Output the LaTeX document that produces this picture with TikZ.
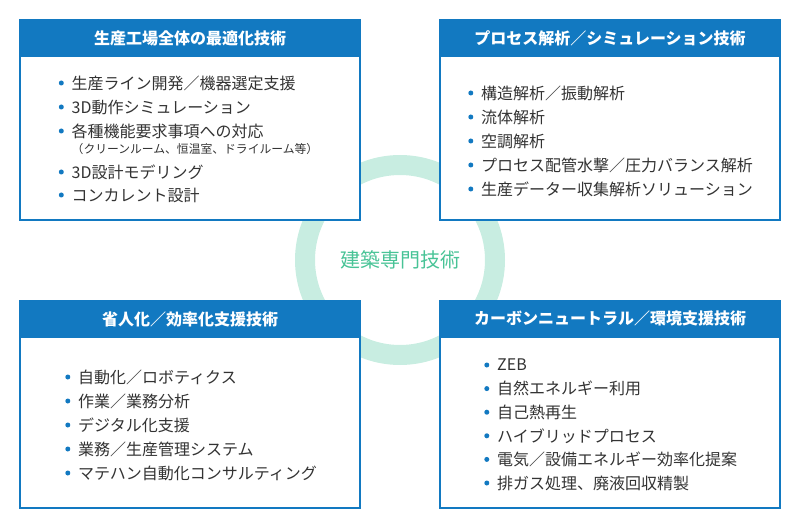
\documentclass[tikz,border=0pt]{standalone}
\usepackage{fontspec}
\setmainfont{Noto Sans CJK JP}
\usepackage{tikz}

\definecolor{boxblue}{HTML}{1279C1}
\definecolor{ringmint}{HTML}{C8EDE1}
\definecolor{coregreen}{HTML}{48C396}
\definecolor{itemgray}{HTML}{333333}

\begin{document}
\begin{tikzpicture}[x=1pt,y=-1pt,
    panel/.style={draw=boxblue,line width=2pt,fill=white,minimum width=340pt,minimum height=200pt,inner sep=0pt},
    head/.style={fill=boxblue,text=white,minimum width=340pt,minimum height=37.5pt,inner sep=0pt,font=\fontsize{16}{16}\selectfont\bfseries},
    item/.style={anchor=west,inner sep=0pt,text=itemgray,font=\fontsize{16}{16}\selectfont,
        label={[fill=boxblue,circle,inner sep=0pt,minimum size=5pt,xshift=-7.5pt]left:{}}},
    note/.style={anchor=west,inner sep=0pt,text=itemgray,font=\fontsize{11.8}{11.8}\selectfont}]
    \useasboundingbox (0,0) rectangle (800,529);

    \node[draw=ringmint,line width=20pt,circle,minimum size=190pt,inner sep=0pt] (ring) at (400,260) {};

    \node[panel] (tlbox) at (190,120) {};
    \node[head,anchor=north] (tlhead) at (tlbox.north) {生産工場全体の最適化技術};
    \node[item] (tl1) at (71.5,83) {生産ライン開発／機器選定支援};
    \node[item] (tl2) at (71.5,107) {3D動作シミュレーション};
    \node[item] (tl3) at (71.5,131) {各種機能要求事項への対応};
    \node[note] (tl3n) at (71.5,149) {（クリーンルーム、恒温室、ドライルーム等）};
    \node[item] (tl4) at (71.5,172) {3D設計モデリング};
    \node[item] (tl5) at (71.5,195) {コンカレント設計};

    \node[panel] (trbox) at (610,120) {};
    \node[head,anchor=north] (trhead) at (trbox.north) {プロセス解析／シミュレーション技術};
    \node[item] (tr1) at (481,93) {構造解析／振動解析};
    \node[item] (tr2) at (481,117) {流体解析};
    \node[item] (tr3) at (481,141) {空調解析};
    \node[item] (tr4) at (481,165) {プロセス配管水撃／圧力バランス解析};
    \node[item] (tr5) at (481,189) {生産データー収集解析ソリューション};

    \node[panel,minimum height=207pt] (blbox) at (190,404.5) {};
    \node[head,anchor=north] (blhead) at (blbox.north) {省人化／効率化支援技術};
    \node[item] (bl1) at (78,377) {自動化／ロボティクス};
    \node[item] (bl2) at (78,401) {作業／業務分析};
    \node[item] (bl3) at (78,425) {デジタル化支援};
    \node[item] (bl4) at (78,449) {業務／生産管理システム};
    \node[item] (bl5) at (78,473) {マテハン自動化コンサルティング};

    \node[panel,minimum height=207pt] (brbox) at (610,404.5) {};
    \node[head,anchor=north] (brhead) at (brbox.north) {カーボンニュートラル／環境支援技術};
    \node[item] (br1) at (497,365) {ZEB};
    \node[item] (br2) at (497,388.6) {自然エネルギー利用};
    \node[item] (br3) at (497,412.2) {自己熱再生};
    \node[item] (br4) at (497,435.8) {ハイブリッドプロセス};
    \node[item] (br5) at (497,459.4) {電気／設備エネルギー効率化提案};
    \node[item] (br6) at (497,483) {排ガス処理、廃液回収精製};

    \node[text=coregreen,font=\fontsize{20}{20}\selectfont] (core) at (ring.center) {建築専門技術};
\end{tikzpicture}
\end{document}
